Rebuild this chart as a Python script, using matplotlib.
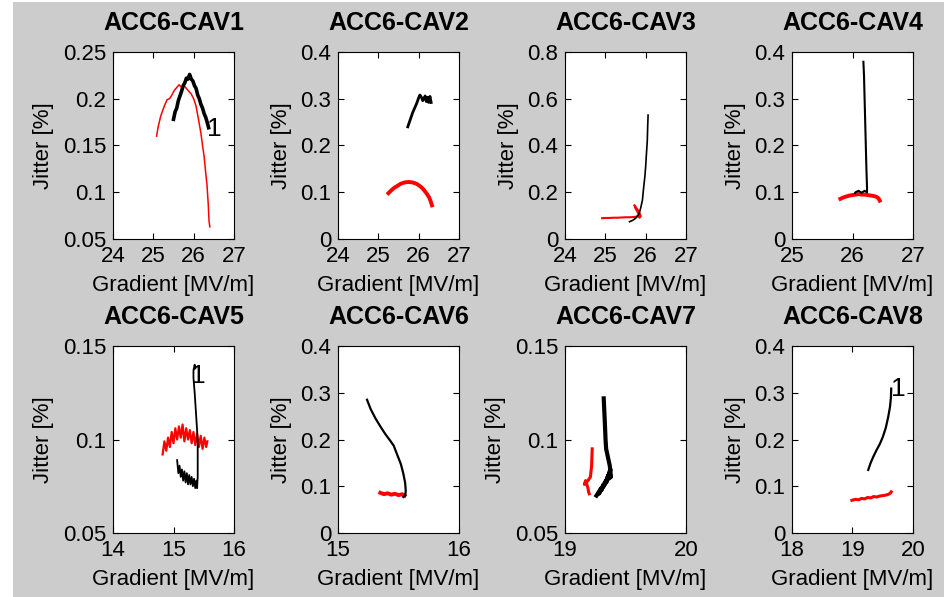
import matplotlib
matplotlib.use("Agg")
import matplotlib.pyplot as plt
from matplotlib.patches import Rectangle
from matplotlib.ticker import FuncFormatter

plt.rcParams['font.family'] = ['Liberation Sans', 'DejaVu Sans']

titles = ['ACC6-CAV1', 'ACC6-CAV2', 'ACC6-CAV3', 'ACC6-CAV4',
          'ACC6-CAV5', 'ACC6-CAV6', 'ACC6-CAV7', 'ACC6-CAV8']

# axis limits / ticks per cavity
xlims = [(24, 27), (24, 27), (24, 27), (25, 27), (14, 16), (15, 16), (19, 20), (18, 20)]
ylims = [(0.05, 0.25), (0, 0.4), (0, 0.8), (0, 0.4), (0.05, 0.15), (0, 0.4), (0.05, 0.15), (0, 0.4)]
xticks = [[24, 25, 26, 27], [24, 25, 26, 27], [24, 25, 26, 27], [25, 26, 27],
          [14, 15, 16], [15, 16], [19, 20], [18, 19, 20]]
yticks = [[0.05, 0.1, 0.15, 0.2, 0.25], [0, 0.1, 0.2, 0.3, 0.4], [0, 0.2, 0.4, 0.6, 0.8],
          [0, 0.1, 0.2, 0.3, 0.4], [0.05, 0.1, 0.15], [0, 0.1, 0.2, 0.3, 0.4],
          [0.05, 0.1, 0.15], [0, 0.1, 0.2, 0.3, 0.4]]

# black traces
bx1 = [25.50, 25.54, 25.58, 25.62, 25.66, 25.70, 25.74, 25.78, 25.82, 25.86, 25.90, 25.94,
       25.98, 26.02, 26.06, 26.10, 26.14, 26.18, 26.22, 26.26, 26.30, 26.34, 26.37]
by1 = [0.178, 0.186, 0.190, 0.198, 0.203, 0.208, 0.214, 0.217, 0.222, 0.221, 0.226, 0.221,
       0.219, 0.214, 0.211, 0.204, 0.200, 0.194, 0.190, 0.184, 0.180, 0.174, 0.169]
bx2 = [25.73, 25.79, 25.85, 25.90, 25.95, 26.00, 26.03, 26.07, 26.10, 26.13, 26.16, 26.19,
       26.22, 26.25, 26.28, 26.31]
by2 = [0.240, 0.255, 0.270, 0.280, 0.290, 0.302, 0.308, 0.303, 0.296, 0.300, 0.306, 0.294,
       0.303, 0.292, 0.305, 0.292]
bx3 = [25.60, 25.68, 25.76, 25.84, 25.88, 25.92, 25.95, 25.98, 26.00, 26.02, 26.04, 26.05, 26.06]
by3 = [0.074, 0.080, 0.090, 0.110, 0.135, 0.167, 0.220, 0.267, 0.310, 0.367, 0.420, 0.480, 0.530]
bx4 = [26.18, 26.19, 26.20, 26.21, 26.22, 26.23, 26.24, 26.24, 26.20, 26.15, 26.10, 26.05, 26.04]
by4 = [0.379, 0.350, 0.300, 0.250, 0.200, 0.150, 0.110, 0.100, 0.103, 0.099, 0.103, 0.100, 0.098]
bx5 = [15.06, 15.08, 15.10, 15.12, 15.14, 15.16, 15.18, 15.20, 15.22, 15.24, 15.26, 15.28,
       15.30, 15.32, 15.34, 15.36, 15.38, 15.39, 15.40, 15.40, 15.39, 15.37, 15.35, 15.33,
       15.33, 15.35, 15.36]
by5 = [0.089, 0.082, 0.086, 0.080, 0.084, 0.078, 0.083, 0.077, 0.082, 0.076, 0.081, 0.076,
       0.080, 0.075, 0.079, 0.074, 0.078, 0.074, 0.080, 0.098, 0.105, 0.115, 0.125, 0.133,
       0.137, 0.140, 0.138]
bx6 = [15.24, 15.27, 15.31, 15.35, 15.39, 15.43, 15.46, 15.49, 15.52, 15.54, 15.555, 15.56,
       15.555, 15.54]
by6 = [0.285, 0.265, 0.245, 0.228, 0.212, 0.198, 0.187, 0.167, 0.147, 0.127, 0.107, 0.090,
       0.080, 0.077]
bx7 = [19.32, 19.325, 19.33, 19.335, 19.34, 19.35, 19.36, 19.37, 19.375, 19.38, 19.36,
       19.375, 19.34, 19.36, 19.32, 19.34, 19.30, 19.32, 19.28, 19.30, 19.26]
by7 = [0.122, 0.115, 0.108, 0.100, 0.095, 0.092, 0.089, 0.086, 0.083, 0.080, 0.079,
       0.084, 0.077, 0.081, 0.075, 0.078, 0.073, 0.076, 0.071, 0.074, 0.070]
bx8 = [19.26, 19.30, 19.35, 19.40, 19.45, 19.50, 19.55, 19.59, 19.62, 19.635, 19.64]
by8 = [0.135, 0.150, 0.165, 0.178, 0.190, 0.205, 0.225, 0.248, 0.270, 0.290, 0.309]

# red traces
rx1 = [25.08, 25.12, 25.18, 25.22, 25.28, 25.34, 25.40, 25.46, 25.52, 25.58, 25.64, 25.70,
       25.76, 25.82, 25.88, 25.94, 26.00, 26.06, 26.12, 26.18, 26.22, 26.26, 26.30, 26.33,
       26.36, 26.38, 26.40]
ry1 = [0.160, 0.170, 0.181, 0.186, 0.193, 0.199, 0.200, 0.204, 0.209, 0.212, 0.215, 0.212,
       0.214, 0.211, 0.208, 0.205, 0.200, 0.192, 0.178, 0.163, 0.150, 0.138, 0.120, 0.108,
       0.088, 0.070, 0.063]
rx2 = [25.25, 25.32, 25.40, 25.48, 25.55, 25.65, 25.75, 25.85, 25.95, 26.05, 26.12, 26.20,
       26.26, 26.30, 26.33]
ry2 = [0.098, 0.104, 0.110, 0.114, 0.118, 0.121, 0.122, 0.121, 0.118, 0.112, 0.106, 0.097,
       0.089, 0.080, 0.072]
rx3 = [24.92, 25.00, 25.10, 25.20, 25.30, 25.40, 25.50, 25.60, 25.70, 25.80, 25.86, 25.84,
       25.80, 25.76, 25.72, 25.75, 25.82, 25.88, 25.85]
ry3 = [0.089, 0.090, 0.090, 0.091, 0.091, 0.092, 0.093, 0.093, 0.094, 0.096, 0.100, 0.115,
       0.125, 0.135, 0.145, 0.130, 0.110, 0.098, 0.092]
rx4 = [25.80, 25.85, 25.90, 25.95, 26.00, 26.05, 26.10, 26.15, 26.20, 26.25, 26.30, 26.35,
       26.40, 26.43, 26.45]
ry4 = [0.086, 0.089, 0.091, 0.093, 0.094, 0.095, 0.096, 0.095, 0.095, 0.094, 0.093, 0.092,
       0.090, 0.087, 0.082]
rx5 = [14.82, 14.85, 14.88, 14.91, 14.94, 14.97, 15.00, 15.03, 15.06, 15.09, 15.12, 15.15,
       15.18, 15.21, 15.24, 15.27, 15.30, 15.33, 15.36, 15.39, 15.42, 15.45, 15.48, 15.51,
       15.54, 15.56]
ry5 = [0.092, 0.099, 0.094, 0.101, 0.096, 0.104, 0.098, 0.106, 0.100, 0.107, 0.101, 0.108,
       0.099, 0.106, 0.100, 0.105, 0.098, 0.104, 0.097, 0.103, 0.096, 0.102, 0.095, 0.101,
       0.096, 0.099]
rx6 = [15.35, 15.38, 15.41, 15.44, 15.47, 15.50, 15.53, 15.55]
ry6 = [0.086, 0.083, 0.085, 0.082, 0.084, 0.081, 0.083, 0.080]
rx7 = [19.225, 19.222, 19.22, 19.215, 19.21, 19.20, 19.19, 19.175, 19.16, 19.17, 19.18,
       19.19, 19.195, 19.20]
ry7 = [0.095, 0.090, 0.086, 0.083, 0.080, 0.079, 0.078, 0.077, 0.076, 0.078, 0.076,
       0.074, 0.072, 0.071]
rx8 = [18.99, 19.05, 19.10, 19.15, 19.20, 19.25, 19.30, 19.35, 19.40, 19.45, 19.50, 19.55,
       19.60, 19.63, 19.64]
ry8 = [0.070, 0.072, 0.071, 0.074, 0.073, 0.076, 0.075, 0.078, 0.077, 0.079, 0.080, 0.081,
       0.083, 0.086, 0.088]

black = [(bx1, by1), (bx2, by2), (bx3, by3), (bx4, by4), (bx5, by5), (bx6, by6), (bx7, by7), (bx8, by8)]
red = [(rx1, ry1), (rx2, ry2), (rx3, ry3), (rx4, ry4), (rx5, ry5), (rx6, ry6), (rx7, ry7), (rx8, ry8)]

# "1" marks
marks = {0: (26.50, 0.168), 4: (15.41, 0.134), 7: (19.75, 0.307)}

# line widths per panel (style, not data)
red_lw = [1.1, 2.8, 1.5, 2.8, 1.6, 2.8, 2.2, 2.2]
black_lw = [2.6, 2.0, 1.2, 1.5, 1.3, 1.6, 3.0, 1.6]

W, H = 944, 597
fig = plt.figure(figsize=(W / 100, H / 100), dpi=100, facecolor='white')
fig.patches.append(Rectangle((13 / W, 0), 1, 1 - 2 / H, transform=fig.transFigure,
                             facecolor='#cccccc', edgecolor='none', zorder=-10))

lefts = [113, 338, 565, 792]
tops = [52, 346]
aw, ah = 121, 187

fmt = FuncFormatter(lambda v, p: '%g' % v)

for i in range(8):
    r, c = divmod(i, 4)
    ax = fig.add_axes([lefts[c] / W, 1 - (tops[r] + ah) / H, aw / W, ah / H])
    ax.set_facecolor('white')
    ax.plot(red[i][0], red[i][1], color='red', lw=red_lw[i])
    ax.plot(black[i][0], black[i][1], color='black', lw=black_lw[i])
    if i in marks:
        ax.text(marks[i][0], marks[i][1], '1', fontsize=19, ha='center', va='center')
    ax.set_xlim(xlims[i])
    ax.set_ylim(ylims[i])
    ax.set_xticks(xticks[i])
    ax.set_yticks(yticks[i])
    ax.xaxis.set_major_formatter(fmt)
    ax.yaxis.set_major_formatter(fmt)
    ax.tick_params(direction='in', length=4, width=0.8, top=True, right=True,
                   labelsize=16, pad=5)
    for s in ax.spines.values():
        s.set_linewidth(0.8)
    ax.set_xlabel('Gradient [MV/m]', fontsize=16, labelpad=6)
    ax.set_ylabel('Jitter [%]', fontsize=16, labelpad=6)
    ax.set_title(titles[i], fontsize=18, fontweight='bold', pad=16)

fig.savefig('out.png', dpi=100, facecolor='white')
